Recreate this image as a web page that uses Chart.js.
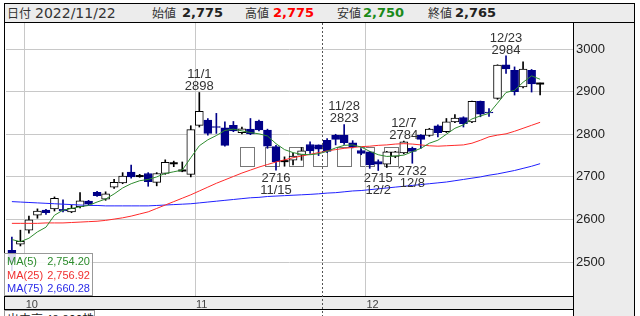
<!DOCTYPE html>
<html lang="ja">
<head>
<meta charset="UTF-8">
<title>株価チャート</title>
<script src="https://cdn.jsdelivr.net/npm/chart.js"></script>
<style>
  body { margin:0; width:640px; height:316px; position:relative; overflow:hidden; background:#fff; font-family:"DejaVu Sans", sans-serif; }
  .hdr { position:absolute; left:4px; top:3px; width:631px; height:20px; box-sizing:border-box; background:#ececec; border:1px solid #000; }
  .hdr span { position:absolute; top:0; line-height:18px; white-space:nowrap; color:#222; }
  .hdr .jp { font-family:"Noto Sans CJK JP", sans-serif; font-size:12px; color:#333; }
  .hdr .v { font-family:"DejaVu Sans", sans-serif; font-weight:bold; font-size:13px; }
  .ypanel { position:absolute; left:573px; top:23px; width:62px; height:293px; box-sizing:border-box; background:#ececec; border-left:1px solid #000; border-right:1px solid #000; }
  .xband { position:absolute; left:4px; top:296px; width:569px; height:14px; box-sizing:border-box; background:#ececec; border-top:1px solid #000; border-bottom:1px solid #000; }
  .lframe { position:absolute; left:4px; top:23px; width:1px; height:293px; background:#000; }
  .wm { position:absolute; left:240px; top:147px; }
  .wm i { position:absolute; top:0; width:15px; height:20px; box-sizing:border-box; border:1px solid #777; }
  #wrap { position:absolute; left:0; top:0; width:640px; height:316px; }
  .legend { position:absolute; left:4px; top:253px; width:89px; height:43px; box-sizing:border-box; border:1px solid #999; background:rgba(255,255,255,0.85); font-family:"Liberation Sans", sans-serif; font-size:11px; }
  .legend div { display:flex; justify-content:space-between; padding:0 2px 0 2px; height:13.5px; line-height:14px; }
  .vol { position:absolute; left:4px; top:310px; width:91px; height:20px; box-sizing:border-box; border:1px solid #999; background:#fff; font-family:"Noto Sans CJK JP", sans-serif; font-size:12px; line-height:16px; padding-left:2px; color:#222; white-space:nowrap; }
</style>
</head>
<body>
<div class="hdr">
  <span class="jp" style="left:2px">日付</span>
  <span style="left:30px;font-size:14px;color:#333">2022/11/22</span>
  <span class="jp" style="left:147px">始値</span>
  <span class="v" style="left:177px">2,775</span>
  <span class="jp" style="left:240px">高値</span>
  <span class="v" style="left:268px;color:#ff0000">2,775</span>
  <span class="jp" style="left:332px">安値</span>
  <span class="v" style="left:358px;color:#1a8a1a">2,750</span>
  <span class="jp" style="left:423px">終値</span>
  <span class="v" style="left:450px">2,765</span>
</div>
<div class="ypanel"></div>
<div class="xband"></div>
<div class="lframe"></div>
<div class="wm">
  <i style="left:0px"></i><i style="left:24.5px"></i><i style="left:48.5px"></i><i style="left:73px"></i><i style="left:97px"></i><i style="left:120px"></i><i style="left:143.5px"></i>
</div>
<div id="wrap"><canvas id="chart" width="640" height="316"></canvas></div>
<div class="legend">
  <div style="color:#2a8a2a"><span>MA(5)</span><span>2,754.20</span></div>
  <div style="color:#f03030"><span>MA(25)</span><span>2,756.92</span></div>
  <div style="color:#2a2ae8"><span>MA(75)</span><span>2,660.28</span></div>
</div>
<div class="vol">出来高 48,800株</div>

<script>
// trading days shown on the chart
const dates = ['9/29','9/30',
  '10/3','10/4','10/5','10/6','10/7','10/11','10/12','10/13','10/14','10/17','10/18','10/19','10/20','10/21','10/24','10/25','10/26','10/27','10/28','10/31',
  '11/1','11/2','11/4','11/7','11/8','11/9','11/10','11/11','11/14','11/15','11/16','11/17','11/18','11/21','11/22','11/24','11/25','11/28','11/29','11/30',
  '12/1','12/2','12/5','12/6','12/7','12/8','12/9','12/12','12/13','12/14','12/15','12/16','12/19','12/20','12/21','12/22','12/23','12/26','12/27','12/28','12/29'];

const opens = [2528,2542,
  2575,2610,2622,2625,2624,2618,2630,2643,2664,2648,2676,2686,2711,2702,2708,2687,2708,2732,2715,2706,
  2821,2833,2818,2815,2821,2804,2812,2831,2810,2771,2737,2739,2751,2776,2775,2786,2798,2798,2780,2762,
  2759,2736,2730,2748,2756,2767,2798,2797,2820,2806,2829,2839,2829,2877,2852,2884,2963,2950,2911,2950,2919];
const highs = [2559,2575,
  2608,2625,2624,2653,2646,2634,2663,2645,2666,2665,2694,2710,2728,2706,2710,2710,2740,2737,2735,2820,
  2898,2837,2849,2829,2830,2817,2837,2833,2812,2774,2747,2755,2769,2782,2775,2790,2800,2823,2785,2766,
  2760,2740,2760,2760,2784,2770,2799,2814,2822,2837,2846,2841,2878,2878,2860,2963,2984,2958,2970,2952,2920];
const lows = [2480,2538,
  2568,2603,2612,2620,2618,2616,2627,2634,2654,2645,2673,2684,2697,2699,2678,2679,2706,2724,2712,2700,
  2817,2798,2802,2772,2806,2801,2799,2808,2767,2716,2725,2728,2739,2755,2750,2757,2775,2776,2768,2752,
  2720,2715,2722,2745,2754,2732,2767,2795,2794,2804,2827,2817,2827,2841,2842,2882,2943,2892,2909,2899,2892];
const closes = [2500,2549,
  2599,2620,2616,2650,2620,2626,2644,2636,2656,2660,2687,2702,2700,2702,2689,2708,2734,2732,2715,2811,
  2854,2802,2816,2774,2808,2813,2801,2810,2772,2736,2737,2749,2761,2761,2765,2760,2788,2780,2771,2755,
  2728,2730,2759,2759,2782,2760,2788,2812,2804,2829,2838,2825,2877,2847,2850,2962,2953,2900,2953,2918,2919];

// moving averages
const ma5 = [2553,2548,
  2556,2571,2582,2610,2622,2626,2630,2633,2641,2648,2660,2674,2684,2691,2694,2700,2708,2712,2716,2745,
  2773,2787,2797,2809,2812,2808,2804,2801,2796,2778,2764,2757,2753,2752,2754.2,2760,2768,2774,2775,2770,
  2760,2752,2748,2749,2751,2759,2767,2779,2786,2800,2814,2822,2836,2843,2849,2873,2898,2903,2922,2937,2929];
const ma25 = [2591,2591,
  2591,2591,2592,2592,2592,2593,2594,2595,2596,2598,2601,2604,2608,2613,2618,2626,2634,2642,2650,2658,
  2667,2676,2685,2693,2701,2709,2716,2723,2729,2735,2740,2745,2749,2753,2756.92,2761,2764,2767,2769,2771,
  2772,2774,2775,2777,2778,2777,2775,2773,2772,2773,2774,2775,2779,2786,2794,2798,2801,2807,2814,2821,2828];
const ma75 = [2642,2641,
  2640,2639,2638,2637,2636,2635,2634,2633,2633,2632,2632,2632,2632,2632,2632,2633,2634,2635,2636,2637,
  2639,2641,2643,2645,2647,2649,2651,2652,2654,2655,2656,2657,2658,2659,2660.28,2662,2663,2665,2667,2668,
  2670,2672,2674,2676,2678,2680,2682,2684,2686,2688,2691,2694,2697,2700,2704,2707,2711,2715,2720,2725,2731];

const yTicks = [2500, 2600, 2700, 2800, 2900, 3000];
const monthStarts = ['10/3', '11/1', '12/1'];
const monthLabels = ['10', '11', '12'];

// high / low notes
const noteDates = ['11/1', '11/28', '12/7', '12/23', '11/15', '12/2', '12/8'];
const notePrices = [2898, 2823, 2784, 2984, 2716, 2715, 2732];
const noteSides = ['high', 'high', 'high', 'high', 'low', 'low', 'low'];

const cursorDate = '11/22';

const UP_FILL = '#ffffff', DOWN = '#000088', EDGE = '#000000';

const bodies = [], wicks = [], dojis = [];
const bodyFill = [], bodyEdge = [], wickColor = [];
dates.forEach((d, i) => {
  const o = opens[i], c = closes[i];
  wicks.push({ x: i, y: [lows[i], highs[i]] });
  if (o === c) {
    dojis.push({ x: i, y: o });
    wickColor.push(EDGE);
  } else {
    bodies.push({ x: i, y: [o, c] });
    bodyFill.push(c > o ? UP_FILL : DOWN);
    bodyEdge.push(c > o ? EDGE : DOWN);
    wickColor.push(c > o ? EDGE : DOWN);
  }
});
const line = arr => arr.map((v, i) => ({ x: i, y: v }));

const notesPlugin = {
  id: 'notes',
  afterDatasetsDraw(chart) {
    const { ctx, scales: { x, y } } = chart;
    ctx.save();
    ctx.font = '13px "Liberation Sans", sans-serif';
    ctx.fillStyle = '#333';
    ctx.textAlign = 'center';
    ctx.textBaseline = 'alphabetic';
    noteDates.forEach((d, k) => {
      const px = x.getPixelForValue(dates.indexOf(d));
      const py = y.getPixelForValue(notePrices[k]);
      if (noteSides[k] === 'high') {
        ctx.fillText(String(notePrices[k]), px, py - 2);
        ctx.fillText(d, px, py - 14);
      } else {
        ctx.fillText(String(notePrices[k]), px, py + 12);
        ctx.fillText(d, px, py + 24);
      }
    });
    // cursor line
    const cx = Math.round(x.getPixelForValue(dates.indexOf(cursorDate)) + 3) + 0.5;
    ctx.strokeStyle = '#555';
    ctx.lineWidth = 1;
    ctx.setLineDash([2, 2]);
    ctx.beginPath();
    ctx.moveTo(cx, chart.chartArea.top);
    ctx.lineTo(cx, chart.height);
    ctx.stroke();
    ctx.restore();
  }
};

new Chart(document.getElementById('chart'), {
  type: 'bar',
  data: {
    datasets: [
      { type: 'line', data: line(ma5), borderColor: '#2e8b2e', borderWidth: 1, pointRadius: 0, order: 0 },
      { type: 'line', data: line(ma25), borderColor: '#ff2a2a', borderWidth: 1, pointRadius: 0, order: 0 },
      { type: 'line', data: line(ma75), borderColor: '#2020ff', borderWidth: 1, pointRadius: 0, order: 0 },
      { type: 'line', data: dojis, showLine: false, pointStyle: 'line', pointRadius: 4, pointBorderWidth: 2,
        borderColor: '#000', order: 1 },
      { data: bodies, backgroundColor: bodyFill, borderColor: bodyEdge, borderWidth: 1, borderSkipped: false,
        barThickness: 8, grouped: false, order: 2 },
      { data: wicks, backgroundColor: wickColor, borderWidth: 0, barThickness: 1, grouped: false, order: 3 }
    ]
  },
  options: {
    responsive: false,
    devicePixelRatio: 1,
    animation: false,
    layout: { padding: { left: 4, top: 23, right: 5, bottom: 0 } },
    plugins: { legend: { display: false }, tooltip: { enabled: false } },
    scales: {
      x: {
        type: 'linear',
        offset: false,
        min: -0.69,
        max: 65.86,
        afterBuildTicks: s => { s.ticks = monthStarts.map(d => ({ value: dates.indexOf(d) - 0.5 })); },
        afterFit: s => { s.height = 20; },
        grid: { color: '#c8c8c8', drawTicks: false, offset: false },
        border: { display: false },
        ticks: {
          callback: (v, i) => monthLabels[i],
          align: 'start',
          labelOffset: 1,
          padding: 2,
          color: '#444',
          font: { family: '"Liberation Sans", sans-serif', size: 11 }
        }
      },
      y: {
        position: 'right',
        min: 2420.6,
        max: 3061,
        afterBuildTicks: s => { s.ticks = yTicks.map(v => ({ value: v })); },
        afterFit: s => { s.width = 62; },
        grid: { color: '#c8c8c8', drawTicks: false },
        border: { display: false },
        ticks: {
          callback: v => String(v),
          padding: 3,
          color: '#222',
          font: { family: '"Liberation Sans", sans-serif', size: 13 }
        }
      }
    }
  },
  plugins: [notesPlugin]
});
</script>
</body>
</html>
